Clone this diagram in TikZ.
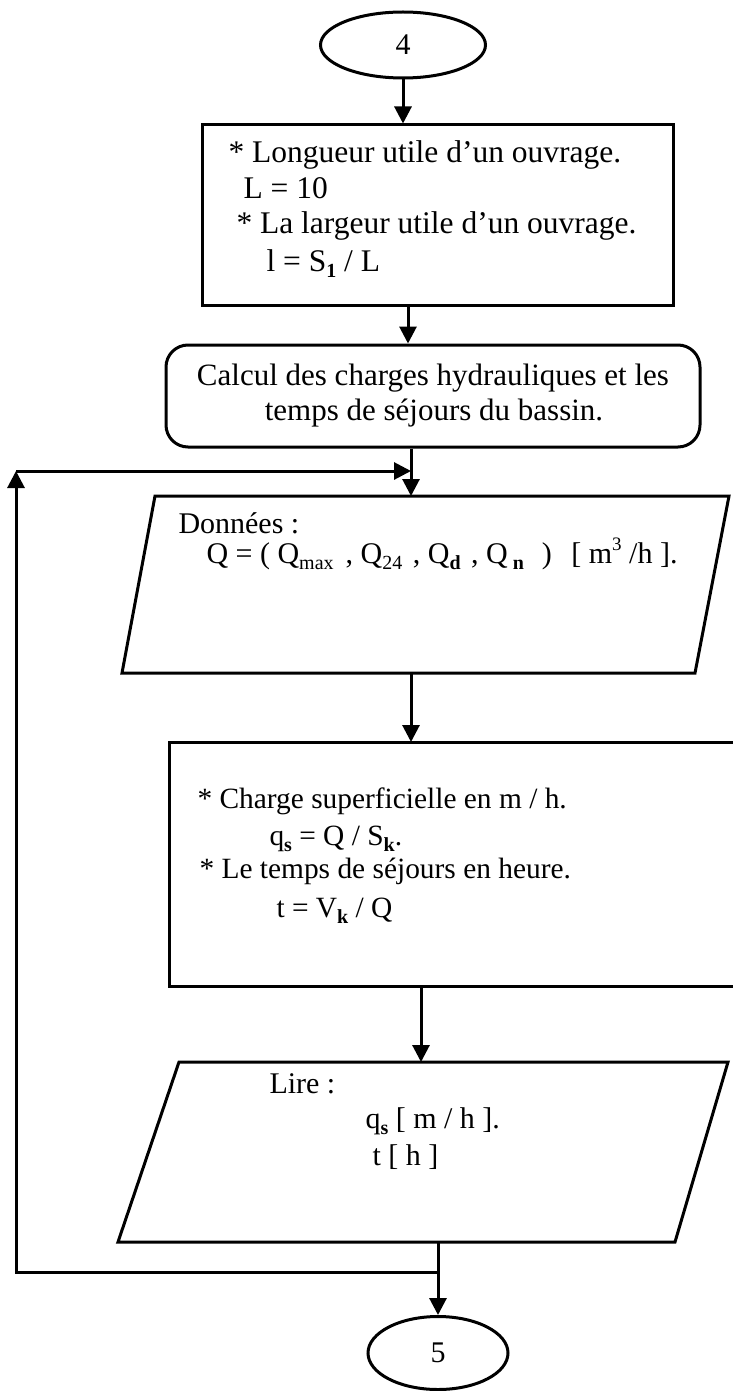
\documentclass[tikz,border=0pt]{standalone}
\usepackage{fontspec}
\setmainfont{Liberation Serif}
\usetikzlibrary{arrows.meta,shapes.geometric}
\newcommand\mysub[1]{\raisebox{-0.22em}{\fontsize{20}{20}\selectfont #1}}
\newcommand\mysup[1]{\raisebox{0.42em}{\fontsize{19}{19}\selectfont #1}}
\begin{document}
\begin{tikzpicture}[x=1pt,y=-1pt,line width=3pt,
  arr/.style={-{Triangle[length=17pt,width=17pt]}},
  txt/.style={anchor=base west,inner sep=0pt,font=\fontsize{31.5}{36}\selectfont},
  ctxt/.style={anchor=base,inner sep=0pt,font=\fontsize{31}{36}\selectfont},
  stxt/.style={anchor=base west,inner sep=0pt,font=\fontsize{30}{35}\selectfont},
  btxt/.style={anchor=base west,inner sep=0pt,font=\fontsize{29.4}{35}\selectfont},
  term/.style={draw,ellipse,inner sep=0pt,font=\fontsize{30}{36}\selectfont},
  procbox/.style={draw,rectangle,inner sep=0pt},
  roundbox/.style={draw,rectangle,rounded corners=22pt,inner sep=0pt}]
\useasboundingbox (0,0) rectangle (732,1391);
\fill[white] (0,0) rectangle (732,1391);
% terminal 4
\node[term,minimum width=165pt,minimum height=66pt] (o4) at (403,45) {4};
% box 1
\node[procbox,minimum width=471pt,minimum height=180pt] (b1) at (437.5,215) {};
\node[txt] (t11) at (227,163) {* Longueur utile d’un ouvrage.};
\node[txt] (t12) at (242,199) {L = 10};
\node[txt] (t13) at (235,233) {* La largeur utile d’un ouvrage.};
\node[txt] (t14) at (265,271) {l = S\mysub{\textbf{1}} / L};
% rounded box
\node[roundbox,minimum width=534pt,minimum height=102pt] (r1) at (433,396) {};
\node[ctxt] (t21) at (433,385) {Calcul des charges hydrauliques et les};
\node[ctxt] (t22) at (434,420) {temps de séjours du bassin.};
% parallelogram 1
\coordinate (p1a) at (155,496);
\coordinate (p1b) at (729,496);
\coordinate (p1c) at (695,673);
\coordinate (p1d) at (122,673);
\draw (p1a) -- (p1b) -- (p1c) -- (p1d) -- cycle;
\coordinate (p1in) at (411,496);
\coordinate (p1out) at (411,673);
\node[stxt] (t31) at (177,533) {Données :};
\node[stxt] (t32) at (205,563) {Q = ( Q\mysub{max}\hspace{12pt}, Q\mysub{24}\hspace{3pt} , Q\mysub{\textbf{d}}\hspace{3pt} , Q\,\mysub{\textbf{n}}\hspace{18pt}) \hspace{12pt}[ m\mysup{3} /h ].};
% box 2 (runs past the right edge)
\coordinate (b2a) at (736,742);
\coordinate (b2b) at (169,742);
\coordinate (b2c) at (169,986);
\coordinate (b2d) at (736,986);
\draw (b2a) -- (b2b) -- (b2c) -- (b2d);
\coordinate (b2in) at (411,742);
\coordinate (b2out) at (421,986);
\node[btxt] (t41) at (196,808) {* Charge superficielle en m / h.};
\node[btxt] (t42) at (268,845) {q\mysub{\textbf{s}} = Q / S\mysub{\textbf{k}}.};
\node[btxt] (t43) at (198,878) {* Le temps de séjours en heure.};
\node[btxt] (t44) at (275,917) {t = V\mysub{\textbf{k}} / Q};
% parallelogram 2
\coordinate (p2a) at (179,1062);
\coordinate (p2b) at (728,1062);
\coordinate (p2c) at (675,1242);
\coordinate (p2d) at (118,1242);
\draw (p2a) -- (p2b) -- (p2c) -- (p2d) -- cycle;
\coordinate (p2in) at (421,1062);
\coordinate (p2out) at (438,1242);
\node[stxt] (t51) at (268,1093) {Lire :};
\node[stxt] (t52) at (364,1128) {q\mysub{\textbf{s}} [ m / h ].};
\node[stxt] (t53) at (371,1165) {t [ h ]};
% terminal 5
\node[term,minimum width=140pt,minimum height=73pt] (o5) at (438,1353) {5};
% connectors
\coordinate (a2) at (408,305);
\coordinate (j1) at (411,471);
\coordinate (j2) at (438,1272);
\coordinate (lt) at (16,471);
\coordinate (lb) at (16,1272);
\draw[arr] (o4.south) -- (o4.south |- b1.north);
\draw[arr] (a2) -- (a2 |- r1.north);
\draw[arr] (r1.south -| j1) -- (p1in);
\draw[arr] (p1out) -- (b2in);
\draw[arr] (b2out) -- (p2in);
\draw[arr] (p2out) -- (o5.north);
\draw[arr,line join=miter] (j2) -- (lb) -- (lt);
\draw[arr] (lt) -- (j1);
\end{tikzpicture}
\end{document}
